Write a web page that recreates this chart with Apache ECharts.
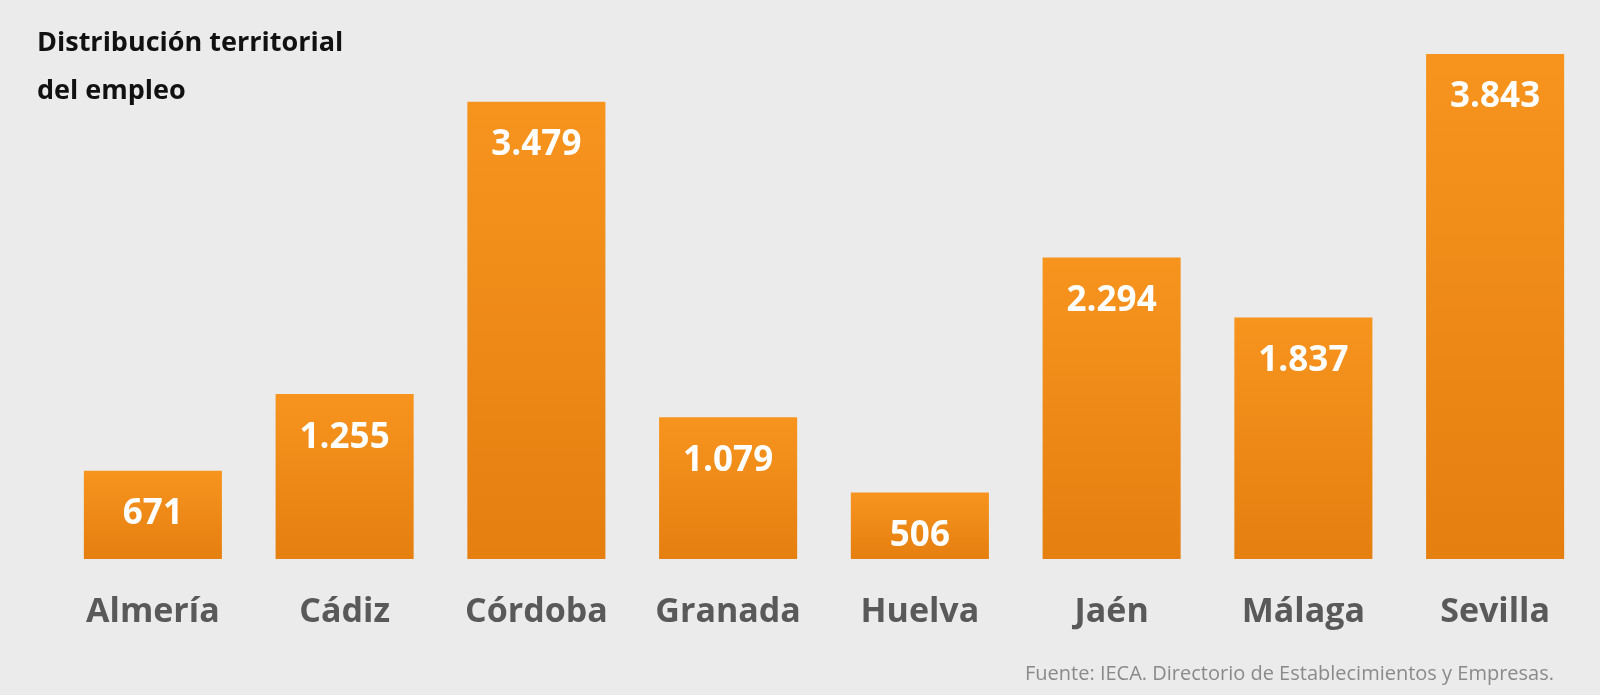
<!DOCTYPE html>
<html><head><meta charset="utf-8">
<script src="https://cdn.jsdelivr.net/npm/echarts@6/dist/echarts.min.js"></script>
<style>html,body{margin:0;padding:0;background:#ebebeb}#c{width:1600px;height:695px}</style>
</head><body><div id="c"></div>
<script>
const categories = ["Almería","Cádiz","Córdoba","Granada","Huelva","Jaén","Málaga","Sevilla"];
const values = [671,1255,3479,1079,506,2294,1837,3843];
const chart = echarts.init(document.getElementById('c'));
const fmt = v => v >= 1000 ? Math.floor(v/1000) + '.' + String(v%1000).padStart(3,'0') : String(v);
chart.setOption({
  backgroundColor:'#ebebeb',
  animation:false,
  title:{text:'Distribución territorial\ndel empleo',left:32,top:14,
    textStyle:{fontFamily:'Open Sans',fontWeight:'bold',fontSize:27,color:'#111',lineHeight:48}},
  graphic:[{type:'text',right:46,top:664,style:{text:'Fuente: IECA. Directorio de Establecimientos y Empresas.',
    fontFamily:'Open Sans',fontSize:20,fill:'#8a8a8a'}}],
  grid:{left:57,right:9,top:54,bottom:136},
  xAxis:{type:'category',data:categories,axisLine:{show:false},axisTick:{show:false},
    axisLabel:{margin:36,fontFamily:'Open Sans',fontWeight:'bold',fontSize:34,color:'#595959'}},
  yAxis:{type:'value',min:0,max:3843,show:false,splitLine:{show:false}},
  series:[{type:'bar',data:values,barWidth:'72%',
    itemStyle:{color:new echarts.graphic.LinearGradient(0,0,0,1,[{offset:0,color:'#f7941e'},{offset:1,color:'#e57f10'}])},
    label:{show:true,position:'insideTop',distance:26,formatter:p=>fmt(p.value),
      fontFamily:'Open Sans',fontWeight:'bold',fontSize:35,color:'#fff'}}]
});
</script></body></html>
